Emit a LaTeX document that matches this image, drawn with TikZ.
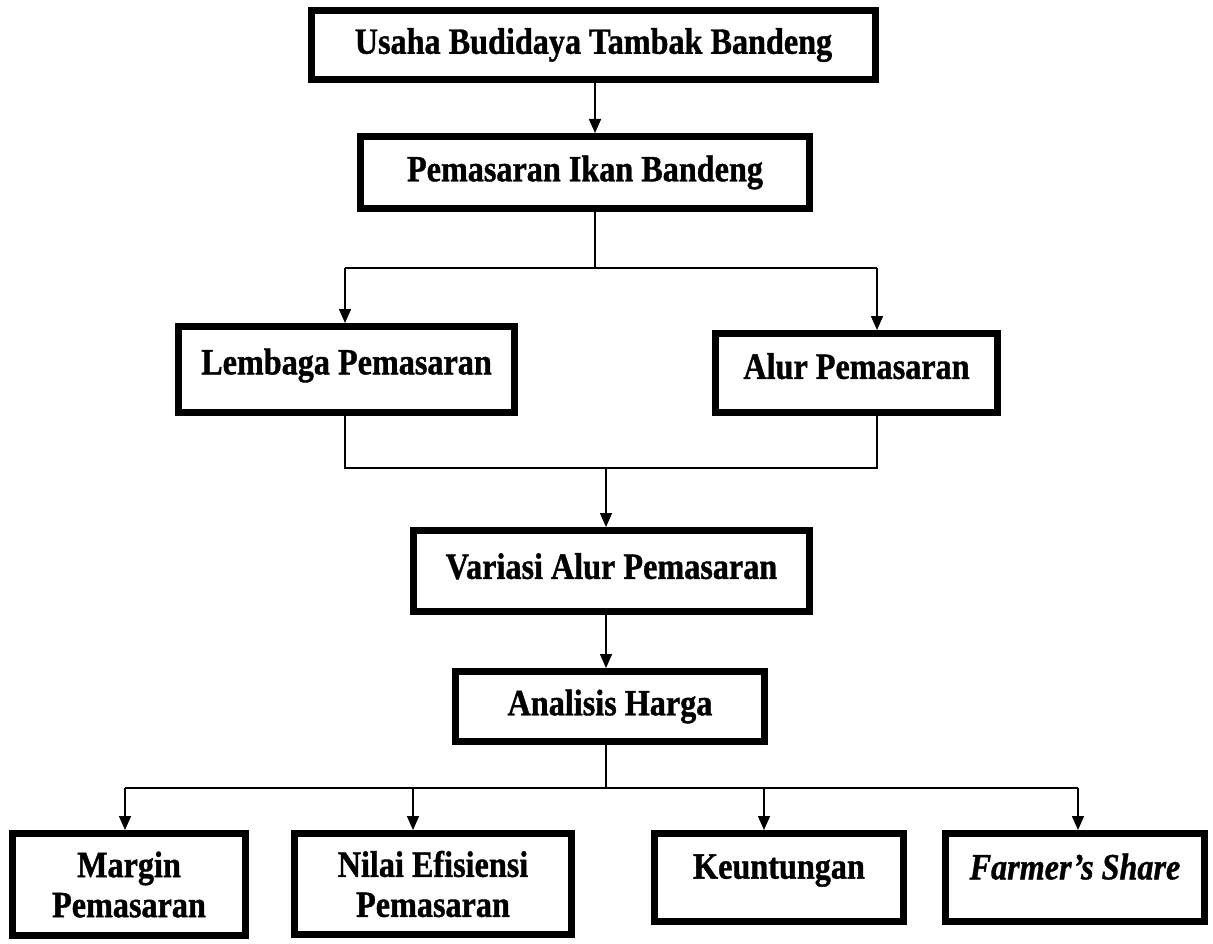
\documentclass[tikz,border=0pt]{standalone}
\usepackage{fontspec}
\setmainfont{Liberation Serif}[FakeStretch=0.87, FakeBold=1]
\usetikzlibrary{arrows.meta}

\begin{document}
\begin{tikzpicture}[
  x=1pt, y=-1pt,
  kotak/.style={draw=black, line width=7pt, inner sep=0pt, align=center,
                font=\fontsize{37}{40}\selectfont\bfseries},
  naik/.style={text depth=#1},
  garis/.style={line width=1.6pt, draw=black},
  panah/.style={garis, -{Triangle[length=14pt, width=12pt]}},
]
\useasboundingbox (0,0) rectangle (1213,944);

% boxes, top to bottom (pixel grid of the scan, y grows downwards)
\node[kotak, minimum width=564, minimum height=69] (usaha) at (593.5,45)
  {Usaha Budidaya Tambak Bandeng};
\node[kotak, minimum width=449, minimum height=72] (pemasaran) at (585,172.5)
  {Pemasaran Ikan Bandeng};
\node[kotak, naik=16pt, minimum width=336, minimum height=86] (lembaga) at (346.5,369.5)
  {Lembaga Pemasaran};
\node[kotak, naik=14pt, minimum width=282, minimum height=79] (alur) at (856.5,373)
  {Alur Pemasaran};
\node[kotak, naik=10pt, minimum width=396, minimum height=81] (variasi) at (611.5,571)
  {Variasi Alur Pemasaran};
\node[kotak, minimum width=309, minimum height=70] (analisis) at (610,706.5)
  {Analisis Harga};

% last row: the four things measured from the price analysis
\node[kotak, minimum width=233, minimum height=102] (margin) at (129,884.5)
  {Margin\\ Pemasaran};
\node[kotak, minimum width=277, minimum height=101] (nilai) at (433,884)
  {Nilai Efisiensi\\ Pemasaran};
\node[kotak, naik=22pt, minimum width=249, minimum height=88] (untung) at (779,877.5)
  {Keuntungan};
\node[kotak, naik=22pt, minimum width=259, minimum height=88] (farmer) at (1075,877.5)
  {\textit{Farmer’s Share}};

% junction points of the connectors
\coordinate (j1) at (595,268);
\coordinate (t-lembaga) at (345,268);
\coordinate (t-alur) at (877,268);
\coordinate (j2) at (606,468);
\coordinate (j3) at (606,788);

\draw[panah] (usaha.south -| j1) -- (pemasaran.north -| j1);
\draw[garis] (pemasaran.south -| j1) -- (j1);
\draw[garis] (t-lembaga) -- (t-alur);
\foreach \kol in {lembaga, alur}
  \draw[panah] (t-\kol) -- (\kol.north -| t-\kol);

% both branches join again above the variation box
\draw[garis] (lembaga.south -| t-lembaga) |- (j2) -| (alur.south -| t-alur);
\draw[panah] (j2) -- (variasi.north -| j2);
\draw[panah] (variasi.south -| j2) -- (analisis.north -| j2);
\draw[garis] (analisis.south -| j3) -- (j3);

\foreach \kol/\xx in {margin/125, nilai/413, untung/764, farmer/1078} {
  \coordinate (t-\kol) at (\xx,788);
  \draw[panah] (t-\kol) -- (\kol.north -| t-\kol);
}
\draw[garis] (t-margin) -- (t-farmer);

\end{tikzpicture}
\end{document}
